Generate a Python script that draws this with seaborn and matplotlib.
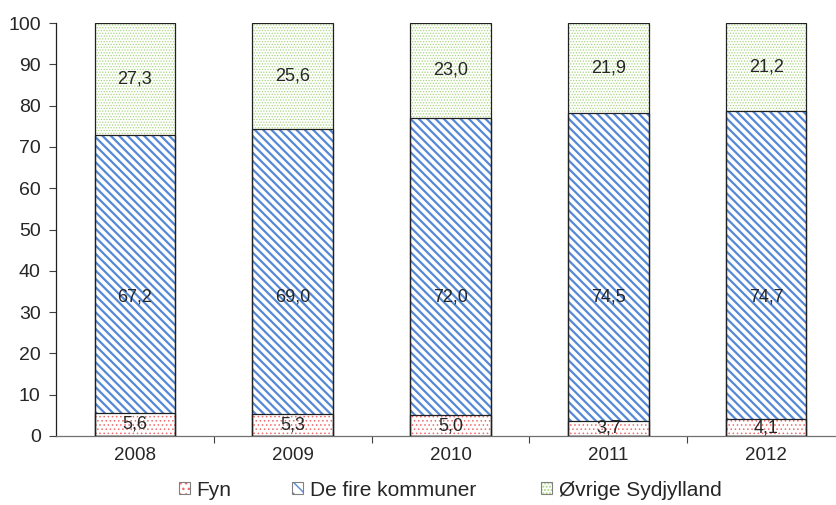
import matplotlib
matplotlib.use('Agg')
import matplotlib.pyplot as plt
import seaborn as sns
import pandas as pd
import numpy as np
from matplotlib.patches import Patch, Rectangle
from matplotlib.legend_handler import HandlerTuple

# data
aar = ['2008', '2009', '2010', '2011', '2012']
fyn = [5.6, 5.3, 5.0, 3.7, 4.1]
de_fire = [67.2, 69.0, 72.0, 74.5, 74.7]
oevrige = [27.3, 25.6, 23.0, 21.9, 21.2]
serie_navne = ['Fyn', 'De fire kommuner', 'Øvrige Sydjylland']

sns.set_style('white')
plt.rcParams['font.family'] = ['Liberation Sans', 'DejaVu Sans']

df = pd.DataFrame({'aar': aar, 'fyn': fyn, 'de_fire': de_fire, 'oevrige': oevrige})
df['top1'] = df['fyn']
df['top2'] = df['fyn'] + df['de_fire']
df['top3'] = df['top2'] + df['oevrige']

fig = plt.figure(figsize=(8.36, 5.05), dpi=100)
ax = fig.add_axes([56 / 836, 69 / 505, (845 - 56) / 836, (436 - 23) / 505])

# stacked bars drawn back to front (white face, coloured hatch)
lag = [('top3', '#a8d57e', '......', 0.6),
       ('top2', '#5589d8', '\\\\\\\\', 1.6),
       ('top1', '#f26a6a', '....', 0.6)]
for kol, farve, hatch, hlw in lag:
    with plt.rc_context({'hatch.linewidth': hlw}):
        sns.barplot(data=df, x='aar', y=kol, ax=ax, color='white', width=0.51,
                    edgecolor=farve, hatch=hatch, linewidth=0, saturation=1)

# black outlines around each segment
for p in list(ax.patches):
    ax.add_patch(Rectangle((p.get_x(), p.get_y()), p.get_width(), p.get_height(),
                           fill=False, edgecolor='#202020', linewidth=0.9, zorder=3))

# value labels
fmt = lambda v: f'{v:.1f}'.replace('.', ',')
for i in range(len(aar)):
    ax.text(i, fyn[i] / 2, fmt(fyn[i]), ha='center', va='center', fontsize=13, zorder=4)
    ax.text(i, 33.7, fmt(de_fire[i]), ha='center', va='center', fontsize=13, zorder=4)
    ax.text(i, df['top2'][i] + oevrige[i] / 2, fmt(oevrige[i]), ha='center', va='center',
            fontsize=13, zorder=4)

ax.set_xlim(-0.5, 4.5)
ax.set_ylim(0, 100)
ax.set_yticks(np.arange(0, 101, 10))
ax.set_xlabel('')
ax.set_ylabel('')
ax.set_xticks(np.arange(0.5, 4.5, 1), minor=True)
ax.tick_params(axis='x', which='major', length=0, labelsize=13.5, pad=8)
ax.tick_params(axis='x', which='minor', length=5, width=0.8, color='#404040', direction='out')
ax.tick_params(axis='y', length=5, width=0.8, color='#404040', direction='out', labelsize=14, pad=6)
ax.tick_params(bottom=True, left=True, which='both')
ax.tick_params(axis='x', which='major', bottom=False)
for s in ['top', 'right']:
    ax.spines[s].set_visible(False)
ax.spines['left'].set_color('#202020')
ax.spines['bottom'].set_color('#707070')
ax.spines['left'].set_linewidth(0.9)
ax.spines['bottom'].set_linewidth(0.9)

# legend, one entry at a time so the gaps match
hatches = [('#f26a6a', '...'), ('#5589d8', '\\\\\\'), ('#a8d57e', '.....')]
leg_x = [179, 292, 541]
for (farve, hatch), navn, x0 in zip(hatches, serie_navne, leg_x):
    fyld = Patch(facecolor='white', edgecolor=farve, hatch=hatch, linewidth=0)
    kant = Patch(fill=False, edgecolor='#808080', linewidth=0.8)
    leg = fig.legend([(fyld, kant)], [navn], loc='center left',
                     bbox_to_anchor=(x0 / 836, 15 / 505),
                     handler_map={tuple: HandlerTuple(ndivide=1, pad=0)},
                     frameon=False, fontsize=15, handlelength=0.55, handleheight=0.55,
                     handletextpad=0.3, borderpad=0, borderaxespad=0)

fig.savefig('out.png', dpi=100)
